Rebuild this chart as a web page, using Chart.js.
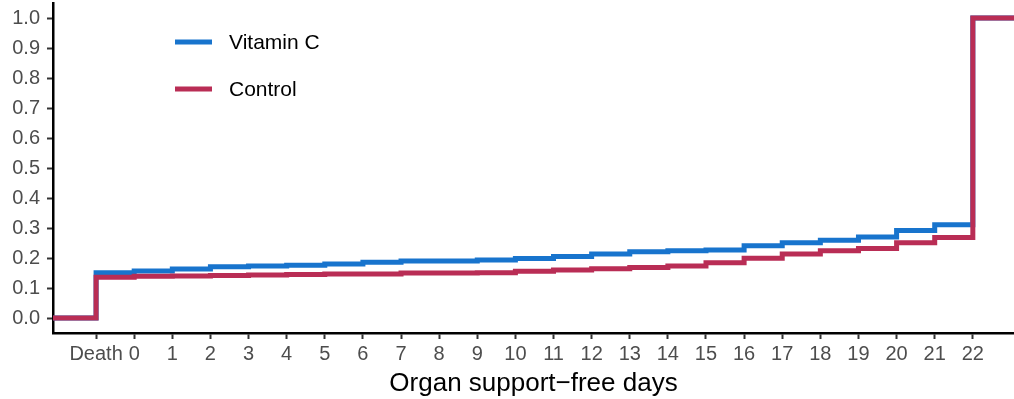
<!DOCTYPE html>
<html>
<head>
<meta charset="utf-8">
<script src="https://cdn.jsdelivr.net/npm/chart.js@4"></script>
<style>
  html, body { margin: 0; padding: 0; background: #fff; }
  #wrap { width: 1014px; height: 399px; position: relative; }
</style>
</head>
<body>
<div id="wrap"><canvas id="cdf"></canvas></div>
<script>
// categories on the x axis (Death, then days 0..22)
const categories = ['Death', '0', '1', '2', '3', '4', '5', '6', '7', '8', '9', '10',
  '11', '12', '13', '14', '15', '16', '17', '18', '19', '20', '21', '22'];
// x position of each category on the axis
const positions = [-1, 0, 1, 2, 3, 4, 5, 6, 7, 8, 9, 10, 11, 12, 13, 14, 15, 16, 17, 18, 19, 20, 21, 22];

// cumulative proportion reached at each category
const vitaminC = [0.151, 0.157, 0.163, 0.171, 0.173, 0.176, 0.180, 0.186, 0.190, 0.190, 0.193, 0.198,
  0.205, 0.213, 0.221, 0.224, 0.227, 0.241, 0.251, 0.259, 0.270, 0.292, 0.311, 1.0];
const control = [0.136, 0.139, 0.140, 0.142, 0.143, 0.145, 0.147, 0.147, 0.150, 0.150, 0.151, 0.156,
  0.160, 0.164, 0.168, 0.173, 0.184, 0.199, 0.213, 0.224, 0.232, 0.251, 0.268, 1.0];

const yTicks = [0, 0.1, 0.2, 0.3, 0.4, 0.5, 0.6, 0.7, 0.8, 0.9, 1.0];
const xMin = -2.13, xMax = 23.08;

// step curve: starts at 0 on the left edge, holds to the right edge
function stepPoints(vals) {
  const pts = [{ x: xMin, y: 0 }];
  vals.forEach((v, i) => pts.push({ x: positions[i], y: v }));
  pts.push({ x: xMax, y: vals[vals.length - 1] });
  return pts;
}

const FONT = "'Liberation Sans', Arial, sans-serif";

/* custom legend inside the plot */
const insideLegend = {
  id: 'insideLegend',
  afterDraw(chart) {
    const ctx = chart.ctx;
    ctx.save();
    [0, 1].forEach((idx, k) => {
      const ds = chart.data.datasets[idx];
      const y = 42 + k * 47;
      ctx.strokeStyle = ds.borderColor;
      ctx.lineWidth = 5;
      ctx.beginPath();
      ctx.moveTo(175, y);
      ctx.lineTo(212, y);
      ctx.stroke();
      ctx.fillStyle = '#000';
      ctx.font = '21px ' + FONT;
      ctx.textBaseline = 'middle';
      ctx.fillText(ds.label, 229, y + 1);
    });
    ctx.restore();
  }
};

const ctx = document.getElementById('cdf');

new Chart(ctx, {
  type: 'line',
  data: {
    datasets: [
      {
        label: 'Vitamin C',
        data: stepPoints(vitaminC),
        borderColor: '#1874cd',
        borderWidth: 5,
        stepped: 'before',
        pointRadius: 0,
        fill: false,
        order: 1
      },
      {
        label: 'Control',
        data: stepPoints(control),
        borderColor: '#b92d55',
        borderWidth: 5,
        stepped: 'before',
        pointRadius: 0,
        fill: false,
        order: 0
      }
    ]
  },
  options: {
    responsive: true,
    maintainAspectRatio: false,
    animation: false,
    layout: { padding: { top: 3, right: 0, left: 0, bottom: 0 } },
    plugins: {
      legend: { display: false },
      tooltip: { enabled: false }
    },
    scales: {
      x: {
        type: 'linear',
        min: xMin,
        max: xMax,
        afterBuildTicks: s => { s.ticks = positions.map(v => ({ value: v })); },
        afterFit: s => { s.height = 66; s.paddingLeft = 0; s.paddingRight = 0; },
        ticks: {
          autoSkip: false,
          maxRotation: 0,
          color: '#4d4d4d',
          font: { family: FONT, size: 20 },
          padding: 3,
          callback: (v) => categories[positions.indexOf(v)]
        },
        grid: { drawOnChartArea: false, tickLength: 6, tickColor: '#333', tickWidth: 2 },
        border: { color: '#000', width: 2.5 },
        title: {
          display: true,
          text: 'Organ support\u2212free days',
          color: '#000',
          font: { family: FONT, size: 26 },
          padding: { top: 0, bottom: 0 }
        }
      },
      y: {
        type: 'linear',
        min: -0.05,
        max: 1.05,
        afterBuildTicks: s => { s.ticks = yTicks.map(v => ({ value: v })); },
        afterFit: s => { s.width = 53; s.paddingTop = 0; s.paddingBottom = 0; },
        ticks: {
          color: '#4d4d4d',
          font: { family: FONT, size: 20 },
          padding: 7,
          callback: v => v.toFixed(1)
        },
        grid: { drawOnChartArea: false, tickLength: 6, tickColor: '#333', tickWidth: 2 },
        border: { color: '#000', width: 2.5 }
      }
    }
  },
  plugins: [insideLegend]
});
</script>
</body>
</html>
